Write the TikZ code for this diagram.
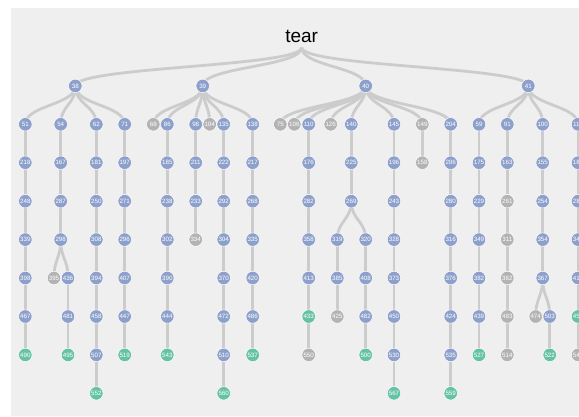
\documentclass[tikz,border=0pt]{standalone}
\usepackage{fontspec}
\setmainfont{Liberation Sans}
\pgfdeclarelayer{back}
\pgfdeclarelayer{bg}
\pgfsetlayers{back,bg,main}
\definecolor{nblue}{HTML}{8DA0CB}
\definecolor{ngreen}{HTML}{66C2A5}
\definecolor{ngray}{HTML}{B3B3B3}
\definecolor{edgec}{HTML}{CCCCCC}
\definecolor{bgc}{HTML}{EFEFEF}
\tikzset{
  tn/.style={circle, minimum size=13.5pt, inner sep=0pt, text=white,
    font=\fontsize{6.2}{6.2}\selectfont, draw=white, line width=0.5pt},
  nb/.style={tn, fill=nblue},
  ng/.style={tn, fill=ngreen},
  nk/.style={tn, fill=ngray},
  lnk/.style={draw=edgec, line width=2.8pt},
}
\newcommand{\lk}[2]{\draw[lnk] (#1) .. controls +(0,19.2) and +(0,-19.2) .. (#2);}
\begin{document}
\begin{tikzpicture}[x=1pt,y=-1pt]
\useasboundingbox (0,0) rectangle (579,416);
\clip (0,0) rectangle (579,416);
\begin{pgfonlayer}{back}
\fill[bgc] (11,8) rectangle (579,416);
\end{pgfonlayer}
% rows
\def\ra{47.5}\def\rb{85.9}\def\rc{124.3}\def\rd{162.7}\def\re{201.2}
\def\rf{239.6}\def\rg{278.0}\def\rh{316.5}\def\ri{354.9}\def\rj{393.3}
% root
\node[anchor=base, font=\fontsize{19}{19}\selectfont] (tear) at (301.7,42) {tear};
\coordinate (root) at (301.7,\ra);
% level 1
\node[nb] (n38) at (75.3,\rb) {38};
\node[nb] (n39) at (202.7,\rb) {39};
\node[nb] (n40) at (365.7,\rb) {40};
\node[nb] (n41) at (528.3,\rb) {41};
% ---- tree 38
\node[nb] (n51) at (25.3,\rc) {51};
\node[nb] (n218) at (25.3,\rd) {218};
\node[nb] (n248) at (25.3,\re) {248};
\node[nb] (n339) at (25.3,\rf) {339};
\node[nb] (n398) at (25.3,\rg) {398};
\node[nb] (n467) at (25.3,\rh) {467};
\node[ng] (n490) at (25.3,\ri) {490};
\node[nb] (n54) at (60.7,\rc) {54};
\node[nb] (n167) at (60.7,\rd) {167};
\node[nb] (n287) at (60.7,\re) {287};
\node[nb] (n298) at (60.7,\rf) {298};
\node[nk] (n395) at (54,\rg) {395};
\node[nb] (n436) at (68,\rg) {436};
\node[nb] (n481) at (68,\rh) {481};
\node[ng] (n495) at (68,\ri) {495};
\node[nb] (n62) at (96.3,\rc) {62};
\node[nb] (n181) at (96.3,\rd) {181};
\node[nb] (n250) at (96.3,\re) {250};
\node[nb] (n308) at (96.3,\rf) {308};
\node[nb] (n394) at (96.3,\rg) {394};
\node[nb] (n458) at (96.3,\rh) {458};
\node[nb] (n507) at (96.3,\ri) {507};
\node[ng] (n552) at (96.3,\rj) {552};
\node[nb] (n71) at (124.7,\rc) {71};
\node[nb] (n197) at (124.7,\rd) {197};
\node[nb] (n271) at (124.7,\re) {271};
\node[nb] (n296) at (124.7,\rf) {296};
\node[nb] (n407) at (124.7,\rg) {407};
\node[nb] (n447) at (124.7,\rh) {447};
\node[ng] (n519) at (124.7,\ri) {519};
% ---- tree 39
\node[nk] (n68) at (153.3,\rc) {68};
\node[nb] (n86) at (167.3,\rc) {86};
\node[nb] (n185) at (167.3,\rd) {185};
\node[nb] (n238) at (167.3,\re) {238};
\node[nb] (n302) at (167.3,\rf) {302};
\node[nb] (n390) at (167.3,\rg) {390};
\node[nb] (n444) at (167.3,\rh) {444};
\node[ng] (n543) at (167.3,\ri) {543};
\node[nb] (n98) at (195.7,\rc) {98};
\node[nb] (n211) at (195.7,\rd) {211};
\node[nb] (n233) at (195.7,\re) {233};
\node[nk] (n334) at (195.7,\rf) {334};
\node[nk] (n104) at (209.7,\rc) {104};
\node[nb] (n135) at (223.7,\rc) {135};
\node[nb] (n222) at (223.7,\rd) {222};
\node[nb] (n292) at (223.7,\re) {292};
\node[nb] (n304) at (223.7,\rf) {304};
\node[nb] (n370) at (223.7,\rg) {370};
\node[nb] (n472) at (223.7,\rh) {472};
\node[nb] (n510) at (223.7,\ri) {510};
\node[ng] (n560) at (223.7,\rj) {560};
\node[nb] (n138) at (252.7,\rc) {138};
\node[nb] (n217) at (252.7,\rd) {217};
\node[nb] (n268) at (252.7,\re) {268};
\node[nb] (n335) at (252.7,\rf) {335};
\node[nb] (n420) at (252.7,\rg) {420};
\node[nb] (n486) at (252.7,\rh) {486};
\node[ng] (n537) at (252.7,\ri) {537};
% ---- tree 40
\node[nk] (n75) at (280.3,\rc) {75};
\node[nk] (n106) at (294.3,\rc) {106};
\node[nb] (n110) at (308.7,\rc) {110};
\node[nb] (n176) at (308.7,\rd) {176};
\node[nb] (n282) at (308.7,\re) {282};
\node[nb] (n358) at (308.7,\rf) {358};
\node[nb] (n413) at (308.7,\rg) {413};
\node[ng] (n433) at (308.7,\rh) {433};
\node[nk] (n550) at (308.7,\ri) {550};
\node[nk] (n126) at (330.7,\rc) {126};
\node[nb] (n140) at (351.3,\rc) {140};
\node[nb] (n225) at (351.3,\rd) {225};
\node[nb] (n269) at (351.3,\re) {269};
\node[nb] (n319) at (337.3,\rf) {319};
\node[nb] (n385) at (337.3,\rg) {385};
\node[nk] (n425) at (337.3,\rh) {425};
\node[nb] (n320) at (365.7,\rf) {320};
\node[nb] (n408) at (365.7,\rg) {408};
\node[nb] (n482) at (365.7,\rh) {482};
\node[ng] (n500) at (365.7,\ri) {500};
\node[nb] (n145) at (394,\rc) {145};
\node[nb] (n196) at (394,\rd) {196};
\node[nb] (n243) at (394,\re) {243};
\node[nb] (n328) at (394,\rf) {328};
\node[nb] (n373) at (394,\rg) {373};
\node[nb] (n450) at (394,\rh) {450};
\node[nb] (n530) at (394,\ri) {530};
\node[ng] (n567) at (394,\rj) {567};
\node[nk] (n149) at (422.3,\rc) {149};
\node[nk] (n158) at (422.3,\rd) {158};
\node[nb] (n204) at (450.7,\rc) {204};
\node[nb] (n206) at (450.7,\rd) {206};
\node[nb] (n280) at (450.7,\re) {280};
\node[nb] (n316) at (450.7,\rf) {316};
\node[nb] (n376) at (450.7,\rg) {376};
\node[nb] (n424) at (450.7,\rh) {424};
\node[nb] (n535) at (450.7,\ri) {535};
\node[ng] (n559) at (450.7,\rj) {559};
% ---- tree 41
\node[nb] (n59) at (479,\rc) {59};
\node[nb] (n175) at (479,\rd) {175};
\node[nb] (n229) at (479,\re) {229};
\node[nb] (n349) at (479,\rf) {349};
\node[nb] (n382) at (479,\rg) {382};
\node[nb] (n439) at (479,\rh) {439};
\node[ng] (n527) at (479,\ri) {527};
\node[nb] (n91) at (507.3,\rc) {91};
\node[nb] (n163) at (507.3,\rd) {163};
\node[nk] (n261) at (507.3,\re) {261};
\node[nk] (n311) at (507.3,\rf) {311};
\node[nk] (n362) at (507.3,\rg) {362};
\node[nk] (n483) at (507.3,\rh) {483};
\node[nk] (n514) at (507.3,\ri) {514};
\node[nb] (n100) at (542.7,\rc) {100};
\node[nb] (n155) at (542.7,\rd) {155};
\node[nb] (n254) at (542.7,\re) {254};
\node[nb] (n354) at (542.7,\rf) {354};
\node[nb] (n367) at (542.7,\rg) {367};
\node[nk] (n474) at (535.7,\rh) {474};
\node[nb] (n503) at (549.7,\rh) {503};
\node[ng] (n522) at (549.7,\ri) {522};
\node[nb] (n11x) at (578,\rc) {118};
\node[nb] (n18x) at (578,\rd) {184};
\node[nb] (n28x) at (578,\re) {285};
\node[nb] (n34x) at (578,\rf) {347};
\node[nb] (n41x) at (578,\rg) {416};
\node[ng] (n45x) at (578,\rh) {457};
\node[nk] (n54x) at (578,\ri) {546};
% ---- connectors
\begin{pgfonlayer}{bg}
\foreach \c in {n38,n39,n40,n41} {\lk{root}{\c.center}}
\foreach \a/\b in {n38/n51,n38/n54,n38/n62,n38/n71,
  n51/n218,n218/n248,n248/n339,n339/n398,n398/n467,n467/n490,
  n54/n167,n167/n287,n287/n298,n298/n395,n298/n436,n436/n481,n481/n495,
  n62/n181,n181/n250,n250/n308,n308/n394,n394/n458,n458/n507,n507/n552,
  n71/n197,n197/n271,n271/n296,n296/n407,n407/n447,n447/n519,
  n39/n68,n39/n86,n39/n98,n39/n104,n39/n135,n39/n138,
  n86/n185,n185/n238,n238/n302,n302/n390,n390/n444,n444/n543,
  n98/n211,n211/n233,n233/n334,
  n135/n222,n222/n292,n292/n304,n304/n370,n370/n472,n472/n510,n510/n560,
  n138/n217,n217/n268,n268/n335,n335/n420,n420/n486,n486/n537,
  n40/n75,n40/n106,n40/n110,n40/n126,n40/n140,n40/n145,n40/n149,n40/n204,
  n110/n176,n176/n282,n282/n358,n358/n413,n413/n433,n433/n550,
  n140/n225,n225/n269,n269/n319,n269/n320,n319/n385,n385/n425,
  n320/n408,n408/n482,n482/n500,
  n145/n196,n196/n243,n243/n328,n328/n373,n373/n450,n450/n530,n530/n567,
  n149/n158,
  n204/n206,n206/n280,n280/n316,n316/n376,n376/n424,n424/n535,n535/n559,
  n41/n59,n41/n91,n41/n100,n41/n11x,
  n59/n175,n175/n229,n229/n349,n349/n382,n382/n439,n439/n527,
  n91/n163,n163/n261,n261/n311,n311/n362,n362/n483,n483/n514,
  n100/n155,n155/n254,n254/n354,n354/n367,n367/n474,n367/n503,n503/n522,
  n11x/n18x,n18x/n28x,n28x/n34x,n34x/n41x,n41x/n45x,n45x/n54x}
  {\lk{\a.center}{\b.center}}
\end{pgfonlayer}
\end{tikzpicture}
\end{document}
